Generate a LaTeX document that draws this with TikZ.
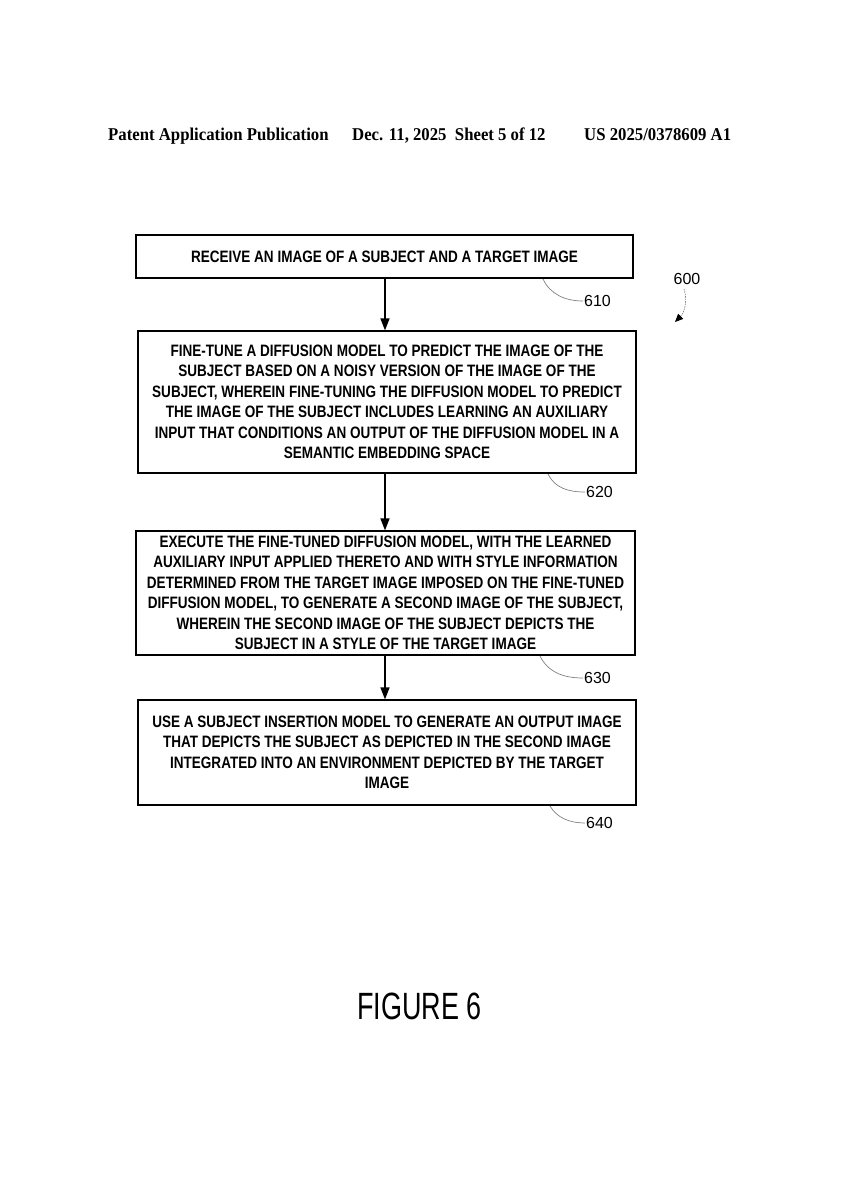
\documentclass[tikz,border=0pt]{standalone}
\usepackage{fontspec}
\setmainfont{Liberation Sans}
\newfontfamily\boxfont{Liberation Sans}[FakeStretch=0.82]
\newfontfamily\hdrfont{Liberation Serif}[FakeStretch=0.93]
\newfontfamily\figfont{Liberation Sans}[FakeStretch=0.71]
\usetikzlibrary{arrows.meta}
\begin{document}
\begin{tikzpicture}[x=1pt,y=-1pt,
  stepbox/.style={draw,line width=1.2pt,align=center,inner sep=0pt,
    font=\boxfont\bfseries\fontsize{16.5}{20.5}\selectfont},
  arr/.style={line width=1.4pt,-{Triangle[length=12pt,width=9pt]}},
  leader/.style={gray,line width=0.7pt},
  ref/.style={font=\fontsize{16}{18}\selectfont,inner sep=1pt,anchor=west},
  hdr/.style={font=\hdrfont\bfseries\fontsize{18}{20}\selectfont,inner sep=0pt,anchor=base west}]
\useasboundingbox (0,0) rectangle (849,1200);
% header
\node[hdr] (h1) at (108,140) {Patent Application Publication};
\node[hdr] (h2) at (352,140) {Dec. 11, 2025\ \ Sheet 5 of 12};
\node[hdr] (h3) at (584,140) {US 2025/0378609 A1};
% boxes
\node[stepbox,minimum width=497pt,minimum height=43pt] (b1) at (384.5,256.5)
  {RECEIVE AN IMAGE OF A SUBJECT AND A TARGET IMAGE};
\node[stepbox,minimum width=498pt,minimum height=142pt] (b2) at (387,402)
  {FINE-TUNE A DIFFUSION MODEL TO PREDICT THE IMAGE OF THE\\
   SUBJECT BASED ON A NOISY VERSION OF THE IMAGE OF THE\\
   SUBJECT, WHEREIN FINE-TUNING THE DIFFUSION MODEL TO PREDICT\\
   THE IMAGE OF THE SUBJECT INCLUDES LEARNING AN AUXILIARY\\
   INPUT THAT CONDITIONS AN OUTPUT OF THE DIFFUSION MODEL IN A\\
   SEMANTIC EMBEDDING SPACE};
\node[stepbox,minimum width=499pt,minimum height=124pt] (b3) at (385.5,593)
  {EXECUTE THE FINE-TUNED DIFFUSION MODEL, WITH THE LEARNED\\
   AUXILIARY INPUT APPLIED THERETO AND WITH STYLE INFORMATION\\
   DETERMINED FROM THE TARGET IMAGE IMPOSED ON THE FINE-TUNED\\
   DIFFUSION MODEL, TO GENERATE A SECOND IMAGE OF THE SUBJECT,\\
   WHEREIN THE SECOND IMAGE OF THE SUBJECT DEPICTS THE\\
   SUBJECT IN A STYLE OF THE TARGET IMAGE};
\node[stepbox,minimum width=498pt,minimum height=105pt] (b4) at (387,752.5)
  {USE A SUBJECT INSERTION MODEL TO GENERATE AN OUTPUT IMAGE\\
   THAT DEPICTS THE SUBJECT AS DEPICTED IN THE SECOND IMAGE\\
   INTEGRATED INTO AN ENVIRONMENT DEPICTED BY THE TARGET\\
   IMAGE};
% arrows
\coordinate (a1) at (385,278);
\coordinate (a2) at (385,473);
\coordinate (a3) at (385,655);
\draw[arr] (a1) -- (a1 |- b2.north);
\draw[arr] (a2) -- (a2 |- b3.north);
\draw[arr] (a3) -- (a3 |- b4.north);
% reference labels
\node[ref] (r610) at (583,301) {610};
\node[ref] (r620) at (585,492) {620};
\node[ref] (r630) at (583,678) {630};
\node[ref] (r640) at (585,823) {640};
\node[ref,anchor=center] (r600) at (687,279) {600};
\coordinate (l1) at (543,279);
\coordinate (l2) at (548,474);
\coordinate (l3) at (540,656);
\coordinate (l4) at (550,806);
\draw[leader] (l1) .. controls (550,294) and (565,301) .. (r610.west);
\draw[leader] (l2) .. controls (555,488) and (568,492) .. (r620.west);
\draw[leader] (l3) .. controls (548,672) and (563,678) .. (r630.west);
\draw[leader] (l4) .. controls (557,818) and (570,823) .. (r640.west);
\coordinate (p600) at (675,322);
\draw[leader,dash pattern=on 1.5pt off 1pt,-{Triangle[length=8pt,width=7pt,black,fill=black]}] (r600.south) ++(-3,3) .. controls (688,302) and (684,313) .. (p600);
% figure label
\node[font=\figfont\fontsize{38}{40}\selectfont,inner sep=0pt] (fig) at (419.5,1006) {FIGURE 6};
\end{tikzpicture}
\end{document}
